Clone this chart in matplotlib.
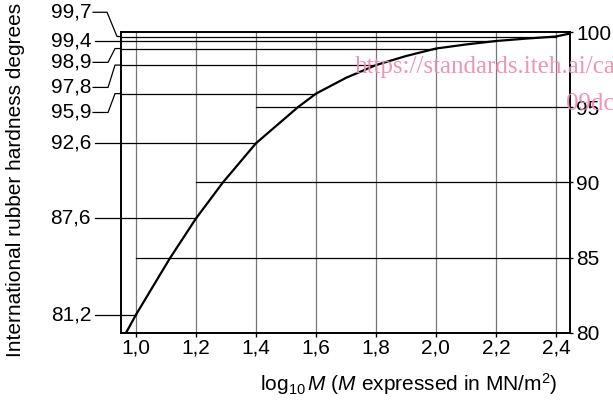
import matplotlib
matplotlib.use("Agg")
import matplotlib.pyplot as plt

plt.rcParams['font.family'] = ['Liberation Sans', 'DejaVu Sans']
plt.rcParams['mathtext.fontset'] = 'custom'
plt.rcParams['mathtext.rm'] = 'Liberation Sans'
plt.rcParams['mathtext.it'] = 'Liberation Sans:italic'

# curve
curve_x = [0.967, 1.0, 1.113, 1.2, 1.29, 1.4, 1.54, 1.6, 1.7, 1.8, 1.9, 2.0, 2.1, 2.2, 2.3, 2.4, 2.447]
curve_y = [80.0, 81.2, 84.95, 87.6, 90.0, 92.6, 95.0, 95.9, 96.95, 97.8, 98.4, 98.9, 99.17, 99.4, 99.56, 99.7, 99.9]

# marked points (left axis labels)
mark_x = [1.0, 1.2, 1.4, 1.6, 1.8, 2.0, 2.2, 2.4]
mark_y = [81.2, 87.6, 92.6, 95.9, 97.8, 98.9, 99.4, 99.7]
mark_labels = ['81,2', '87,6', '92,6', '95,9', '97,8', '98,9', '99,4', '99,7']

# right axis
right_ticks = [80, 85, 90, 95, 100]
right_labels = ['80', '85', '90', '95', '100']
right_line_start = [None, 1.0, 1.2, 1.4, None]

x_ticks = [1.0, 1.2, 1.4, 1.6, 1.8, 2.0, 2.2, 2.4]
x_labels = ['1,0', '1,2', '1,4', '1,6', '1,8', '2,0', '2,2', '2,4']

XMIN, XMAX, YMIN, YMAX = 0.95, 2.447, 80, 100
FS = 15

fig = plt.figure(figsize=(6.13, 4.04), dpi=100)
W, H = 613, 404
ax = fig.add_axes([121 / W, 1 - 332.7 / H, (570 - 121) / W, (332.7 - 32.0) / H])
ax.set_xlim(XMIN, XMAX)
ax.set_ylim(YMIN, YMAX)

for s in ax.spines.values():
    s.set_linewidth(1.4)
    s.set_color('black')

# vertical grid lines
for xv in x_ticks:
    ax.plot([xv, xv], [YMIN, YMAX], color='#777777', lw=0.9, zorder=1)

# horizontal lines from left spine to curve point
for xv, yv in zip(mark_x, mark_y):
    ax.plot([XMIN, xv], [yv, yv], color='black', lw=0.9, zorder=2)

# right lines
for yv, xs in zip(right_ticks, right_line_start):
    if xs is not None:
        ax.plot([xs, XMAX], [yv, yv], color='black', lw=0.9, zorder=2)

ax.plot(curve_x, curve_y, color='black', lw=1.6, zorder=3,
        solid_joinstyle='round', solid_capstyle='butt')

# x ticks
ax.set_xticks(x_ticks)
ax.set_xticklabels(x_labels, fontsize=FS)
ax.tick_params(axis='x', direction='out', length=3, width=1, pad=1)

# right ticks
ax.set_yticks([])
axr = ax.twinx()
axr.set_ylim(YMIN, YMAX)
axr.set_yticks(right_ticks)
axr.set_yticklabels(right_labels, fontsize=FS)
axr.tick_params(axis='y', direction='out', length=2, width=1, pad=2.5)
for s in axr.spines.values():
    s.set_visible(False)

# left labels with leader lines (pixel-based layout)
def px2x(px):
    return XMIN + (px - 121) / 300.7

def py2y(py):
    return 80 + (332.7 - py) / 15.0

label_py = {'81,2': None, '87,6': None, '92,6': None, '95,9': 113, '97,8': 88, '98,9': 63, '99,4': None, '99,7': 13}
for lab, yv in zip(mark_labels, mark_y):
    lp = label_py[lab]
    if lp is None:
        ty = yv
        ax.plot([px2x(95), XMIN], [yv, yv], color='black', lw=0.9, clip_on=False)
    else:
        ty = py2y(lp)
        if lab == '99,7':
            xs = [px2x(93), px2x(107), px2x(117), XMIN]
        else:
            xs = [px2x(93), px2x(108), px2x(115), XMIN]
        ax.plot(xs, [ty, ty, yv, yv], color='black', lw=0.9, clip_on=False)
    ax.text(px2x(91), ty, lab, fontsize=FS, ha='right', va='center', clip_on=False)

fig.text(16 / W, 1 - 180 / H, 'International rubber hardness degrees',
         fontsize=FS, rotation=90, ha='center', va='center')

fig.text(557 / W, 1 - 391 / H,
         r'$\mathrm{log}_{10}\,M$ ($M$ expressed in MN/m$^{2}$)',
         fontsize=FS, ha='right', va='baseline')

# watermark
fig.text(355 / W, 1 - 73 / H, 'https://standards.iteh.ai/cata',
         fontsize=18, family='Liberation Serif', color='#f088aa',
         ha='left', va='baseline', alpha=0.9, zorder=10)
fig.text(566 / W, 1 - 110 / H, '09dc',
         fontsize=18, family='Liberation Serif', color='#f088aa',
         ha='left', va='baseline', alpha=0.9, zorder=10)

fig.savefig('out.png', dpi=100)
